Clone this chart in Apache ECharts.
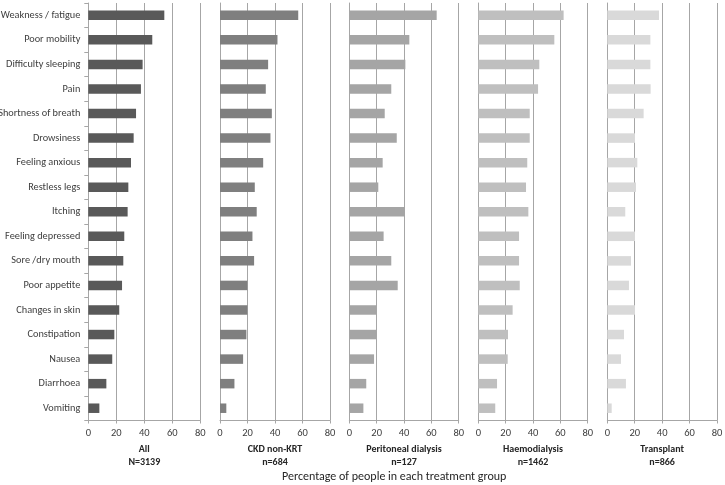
<!DOCTYPE html>
<html><head><meta charset="utf-8">
<script src="https://cdn.jsdelivr.net/npm/echarts@6/dist/echarts.min.js"></script>
<style>html,body{margin:0;padding:0;background:#fff}#c{width:725px;height:485px}</style>
</head><body><div id="c"></div>
<script>
const categories = ["Weakness / fatigue","Poor mobility","Difficulty sleeping","Pain","Shortness of breath","Drowsiness","Feeling anxious","Restless legs","Itching","Feeling depressed","Sore /dry mouth","Poor appetite","Changes in skin","Constipation","Nausea","Diarrhoea","Vomiting"];
const groupNames = ["All\nN=3139","CKD non-KRT\nn=684","Peritoneal dialysis\nn=127","Haemodialysis\nn=1462","Transplant\nn=866"];
const allValues = [54.3,45.7,38.8,37.6,34.1,32.4,30.5,28.6,28.1,25.7,25.0,24.1,22.1,18.6,17.1,12.9,7.9];
const ckdValues = [56.9,41.8,35.0,33.3,37.7,36.7,31.4,25.3,26.7,23.6,24.8,19.9,19.9,19.2,16.8,10.5,4.6];
const pdValues = [63.9,43.9,41.0,30.7,25.9,34.7,24.4,21.2,40.7,25.1,30.7,35.4,20.0,20.2,18.1,12.4,10.3];
const hdValues = [62.4,55.6,44.6,43.7,37.6,37.6,35.8,34.9,36.6,29.8,29.8,30.3,25.1,21.7,21.5,13.7,12.4];
const txValues = [37.7,31.4,31.4,31.6,26.5,20.2,21.9,20.9,13.1,20.2,17.3,15.8,20.2,12.2,10.0,13.6,3.2];
const xTicks = [0,20,40,60,80];
const axisTitle = "Percentage of people in each treatment group";

const seriesData = [allValues, ckdValues, pdValues, hdValues, txValues];
const colors = ["#595959","#7f7f7f","#a5a5a5","#bfbfbf","#d9d9d9"];
const lefts = [88.3, 220, 349.3, 478.3, 607.3];
const widths = [112, 110, 109.4, 109.4, 109.7];
const font = "Carlito, Lato, sans-serif";

const grids = [], xAxes = [], yAxes = [], series = [];
for (let i = 0; i < 5; i++) {
  grids.push({left: lefts[i], width: widths[i], top: 3, bottom: 64.5, containLabel: false, outerBoundsMode: 'none'});
  xAxes.push({
    type: 'value', gridIndex: i, min: xTicks[0], max: xTicks[xTicks.length-1], interval: xTicks[1]-xTicks[0],
    axisLine: {show: true, lineStyle: {color: '#a6a6a6', width: 1}},
    axisTick: {show: true, length: 3, lineStyle: {color: '#a6a6a6'}},
    axisLabel: {color: '#404040', fontSize: 10.5, fontFamily: font, margin: 7},
    splitLine: {show: true, lineStyle: {color: '#a6a6a6', width: 1}},
    name: groupNames[i], nameLocation: 'middle', nameGap: 21,
    nameTextStyle: {color: '#262626', fontSize: 10, fontWeight: 'bold', fontFamily: font, lineHeight: 12.5}
  });
  yAxes.push({
    type: 'category', gridIndex: i, data: categories, inverse: true,
    axisLine: {show: true, lineStyle: {color: '#a6a6a6', width: 1}},
    axisTick: {show: i === 0, length: 4, lineStyle: {color: '#a6a6a6'}},
    axisLabel: {show: i === 0, color: '#404040', fontSize: 10.3, fontFamily: font, margin: 8},
    splitLine: {show: false}
  });
  series.push({
    type: 'bar', xAxisIndex: i, yAxisIndex: i, data: seriesData[i], barWidth: 9.5,
    itemStyle: {color: colors[i]}, silent: true, animation: false
  });
}

const chart = echarts.init(document.getElementById('c'), null, {renderer: 'canvas'});
chart.setOption({
  animation: false,
  backgroundColor: '#ffffff',
  grid: grids, xAxis: xAxes, yAxis: yAxes, series: series,
  graphic: [{type: 'text', left: 282, top: 471, style: {text: axisTitle, fill: '#262626', font: '12px Carlito, Lato, sans-serif'}}]
});
</script></body></html>
